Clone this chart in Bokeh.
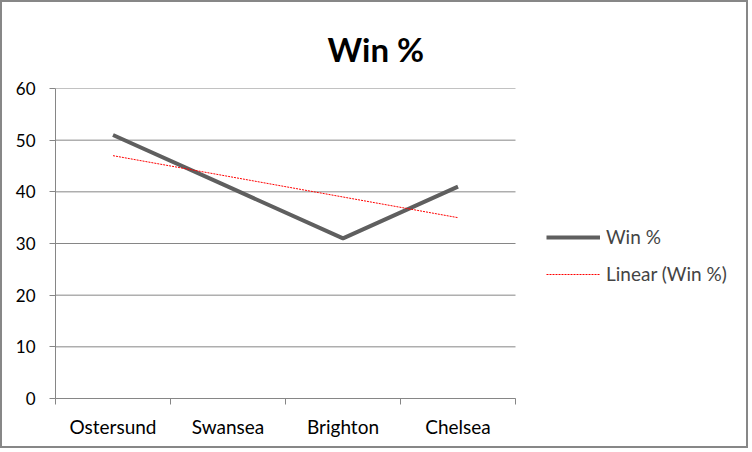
from bokeh.plotting import figure
from bokeh.models import FixedTicker, Legend, LegendItem, Range1d, Title
from bokeh.embed import file_html
from bokeh.resources import INLINE
import numpy as np

categories = ["Ostersund", "Swansea", "Brighton", "Chelsea"]
win_pct = [51, 41, 31, 41]
y_ticks = [0, 10, 20, 30, 40, 50, 60]

xs = list(range(len(categories)))
slope, intercept = np.polyfit(xs, win_pct, 1)
trend = [slope * x + intercept for x in xs]

FONT = "Lato"
GRID = "#868686"

# layout: category band = 115 px; frame extends under the legend area
CANVAS_W, CANVAS_H = 748, 448
LEFT, TOP, BOTTOM = 53, 86, 52
BAND = 115
n = len(categories)
x_start = -0.5
x_end = x_start + (CANVAS_W - LEFT) / BAND

p = figure(width=CANVAS_W, height=CANVAS_H, output_backend="svg", toolbar_location=None,
           x_range=Range1d(x_start, x_end), y_range=Range1d(0, 60),
           min_border_left=LEFT, min_border_right=0, min_border_top=TOP,
           min_border_bottom=BOTTOM)
p.styles = {"border": "2px solid #878787"}
p.outline_line_color = None

# horizontal gridlines limited to the category area
p.segment(x0=x_start, x1=n - 0.5, y0=y_ticks, y1=y_ticks, line_color=GRID, line_width=1)

r1 = p.line(xs, win_pct, line_color="#5f5f5f", line_width=4)
r2 = p.line(xs, trend, line_color="#ff0000", line_width=1, line_dash="2 1")

p.xaxis.bounds = (x_start, n - 0.5)
p.xaxis.ticker = FixedTicker(ticks=xs, minor_ticks=[x - 0.5 for x in xs] + [n - 0.5])
p.xaxis.major_label_overrides = {i: c for i, c in enumerate(categories)}
p.xaxis.major_tick_line_color = None
p.xaxis.minor_tick_in = 0
p.xaxis.minor_tick_out = 6
p.xaxis.minor_tick_line_color = GRID
p.xaxis.axis_line_color = GRID
p.xaxis.major_label_standoff = 10
p.xaxis.major_label_text_font_size = "19px"
p.xgrid.grid_line_color = None
p.ygrid.grid_line_color = None

p.yaxis.ticker = FixedTicker(ticks=y_ticks)
p.yaxis.major_tick_in = 0
p.yaxis.major_tick_out = 6
p.yaxis.minor_tick_line_color = None
p.yaxis.major_tick_line_color = GRID
p.yaxis.axis_line_color = GRID
p.yaxis.major_label_standoff = 14
p.yaxis.major_label_text_font_size = "17px"

for ax in (p.xaxis, p.yaxis):
    ax.major_label_text_font = FONT
    ax.major_label_text_color = "#000000"

p.title = Title(text="Win %", align="left", offset=272, text_font=FONT,
                text_font_size="33px", text_font_style="bold", text_color="#000000",
                text_line_height=0.9, standoff=40)

legend = Legend(items=[LegendItem(label="Win %", renderers=[r1]),
                       LegendItem(label="Linear (Win %)", renderers=[r2])],
                location=(491, 113), border_line_color=None, background_fill_alpha=0,
                glyph_width=54, glyph_height=20, spacing=14, label_text_font=FONT,
                label_text_font_size="19px", label_standoff=6, padding=5, margin=0)
p.add_layout(legend)

open("out.html", "w").write(file_html(p, INLINE))
